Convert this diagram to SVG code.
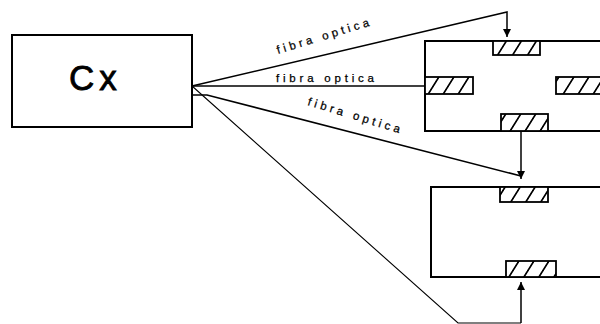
<svg xmlns="http://www.w3.org/2000/svg" width="600" height="324" viewBox="0 0 600 324">
<style>
.box{fill:#fff;stroke:#000;stroke-width:2}
.hatch{fill:url(#h);stroke:#000;stroke-width:1.8}
.c{fill:none;stroke:#000;stroke-width:1.5}
.thin{fill:none;stroke:#000;stroke-width:1.1}
.lbl{font-family:"Liberation Sans",Arial,sans-serif;font-size:11.5px;fill:#000;stroke:#000;stroke-width:0.25}
</style>
<defs>
<pattern id="h" patternUnits="userSpaceOnUse" width="15" height="10" patternTransform="skewX(-32)">
<rect width="15" height="10" fill="#fff"/>
<line x1="7" y1="-1" x2="7" y2="11" stroke="#000" stroke-width="2"/>
</pattern>
<marker id="ar" markerUnits="userSpaceOnUse" markerWidth="9" markerHeight="8" refX="8" refY="4" orient="auto">
<path d="M0,0 L8,4 L0,8 z" fill="#000"/>
</marker>
</defs>
<g id="cx">
<rect class="box" x="12" y="35" width="180" height="92"/>
<text x="69" y="90" font-family="Liberation Sans, Arial, sans-serif" font-size="35" letter-spacing="5" stroke="#000" stroke-width="0.8">Cx</text>
</g>
<g id="room1">
<rect class="box" x="425" y="41" width="190" height="90"/>
<rect class="hatch" x="493" y="41" width="47" height="14"/>
<rect class="hatch" x="425" y="77" width="48" height="17"/>
<rect class="hatch" x="556" y="77" width="55" height="17"/>
<rect class="hatch" x="501" y="114" width="47" height="17"/>
</g>
<g id="room2">
<rect class="box" x="431" y="187" width="184" height="90"/>
<rect class="hatch" x="500" y="187" width="48" height="15"/>
<rect class="hatch" x="506" y="261" width="50" height="16"/>
</g>
<g id="connectors">
<polyline class="c" points="192,86 507,12 507,37" marker-end="url(#ar)"/>
<line class="c" x1="192" y1="86" x2="425" y2="86"/>
<polyline class="c" points="192,95 207,95 521,176"/>
<line class="c" x1="521" y1="131" x2="521" y2="179" marker-end="url(#ar)"/>
<polyline class="thin" points="192,86 458,323 521,323"/>
<line class="c" x1="521" y1="323" x2="521" y2="282" marker-end="url(#ar)"/>
</g>
<g id="labels">
<text class="lbl" transform="translate(278,54) rotate(-17)" textLength="96" lengthAdjust="spacing">fibra optica</text>
<text class="lbl" x="276" y="82" textLength="98" lengthAdjust="spacing">fibra optica</text>
<text class="lbl" transform="translate(307,105) rotate(17)" textLength="96" lengthAdjust="spacing">fibra optica</text>
</g>
</svg>
